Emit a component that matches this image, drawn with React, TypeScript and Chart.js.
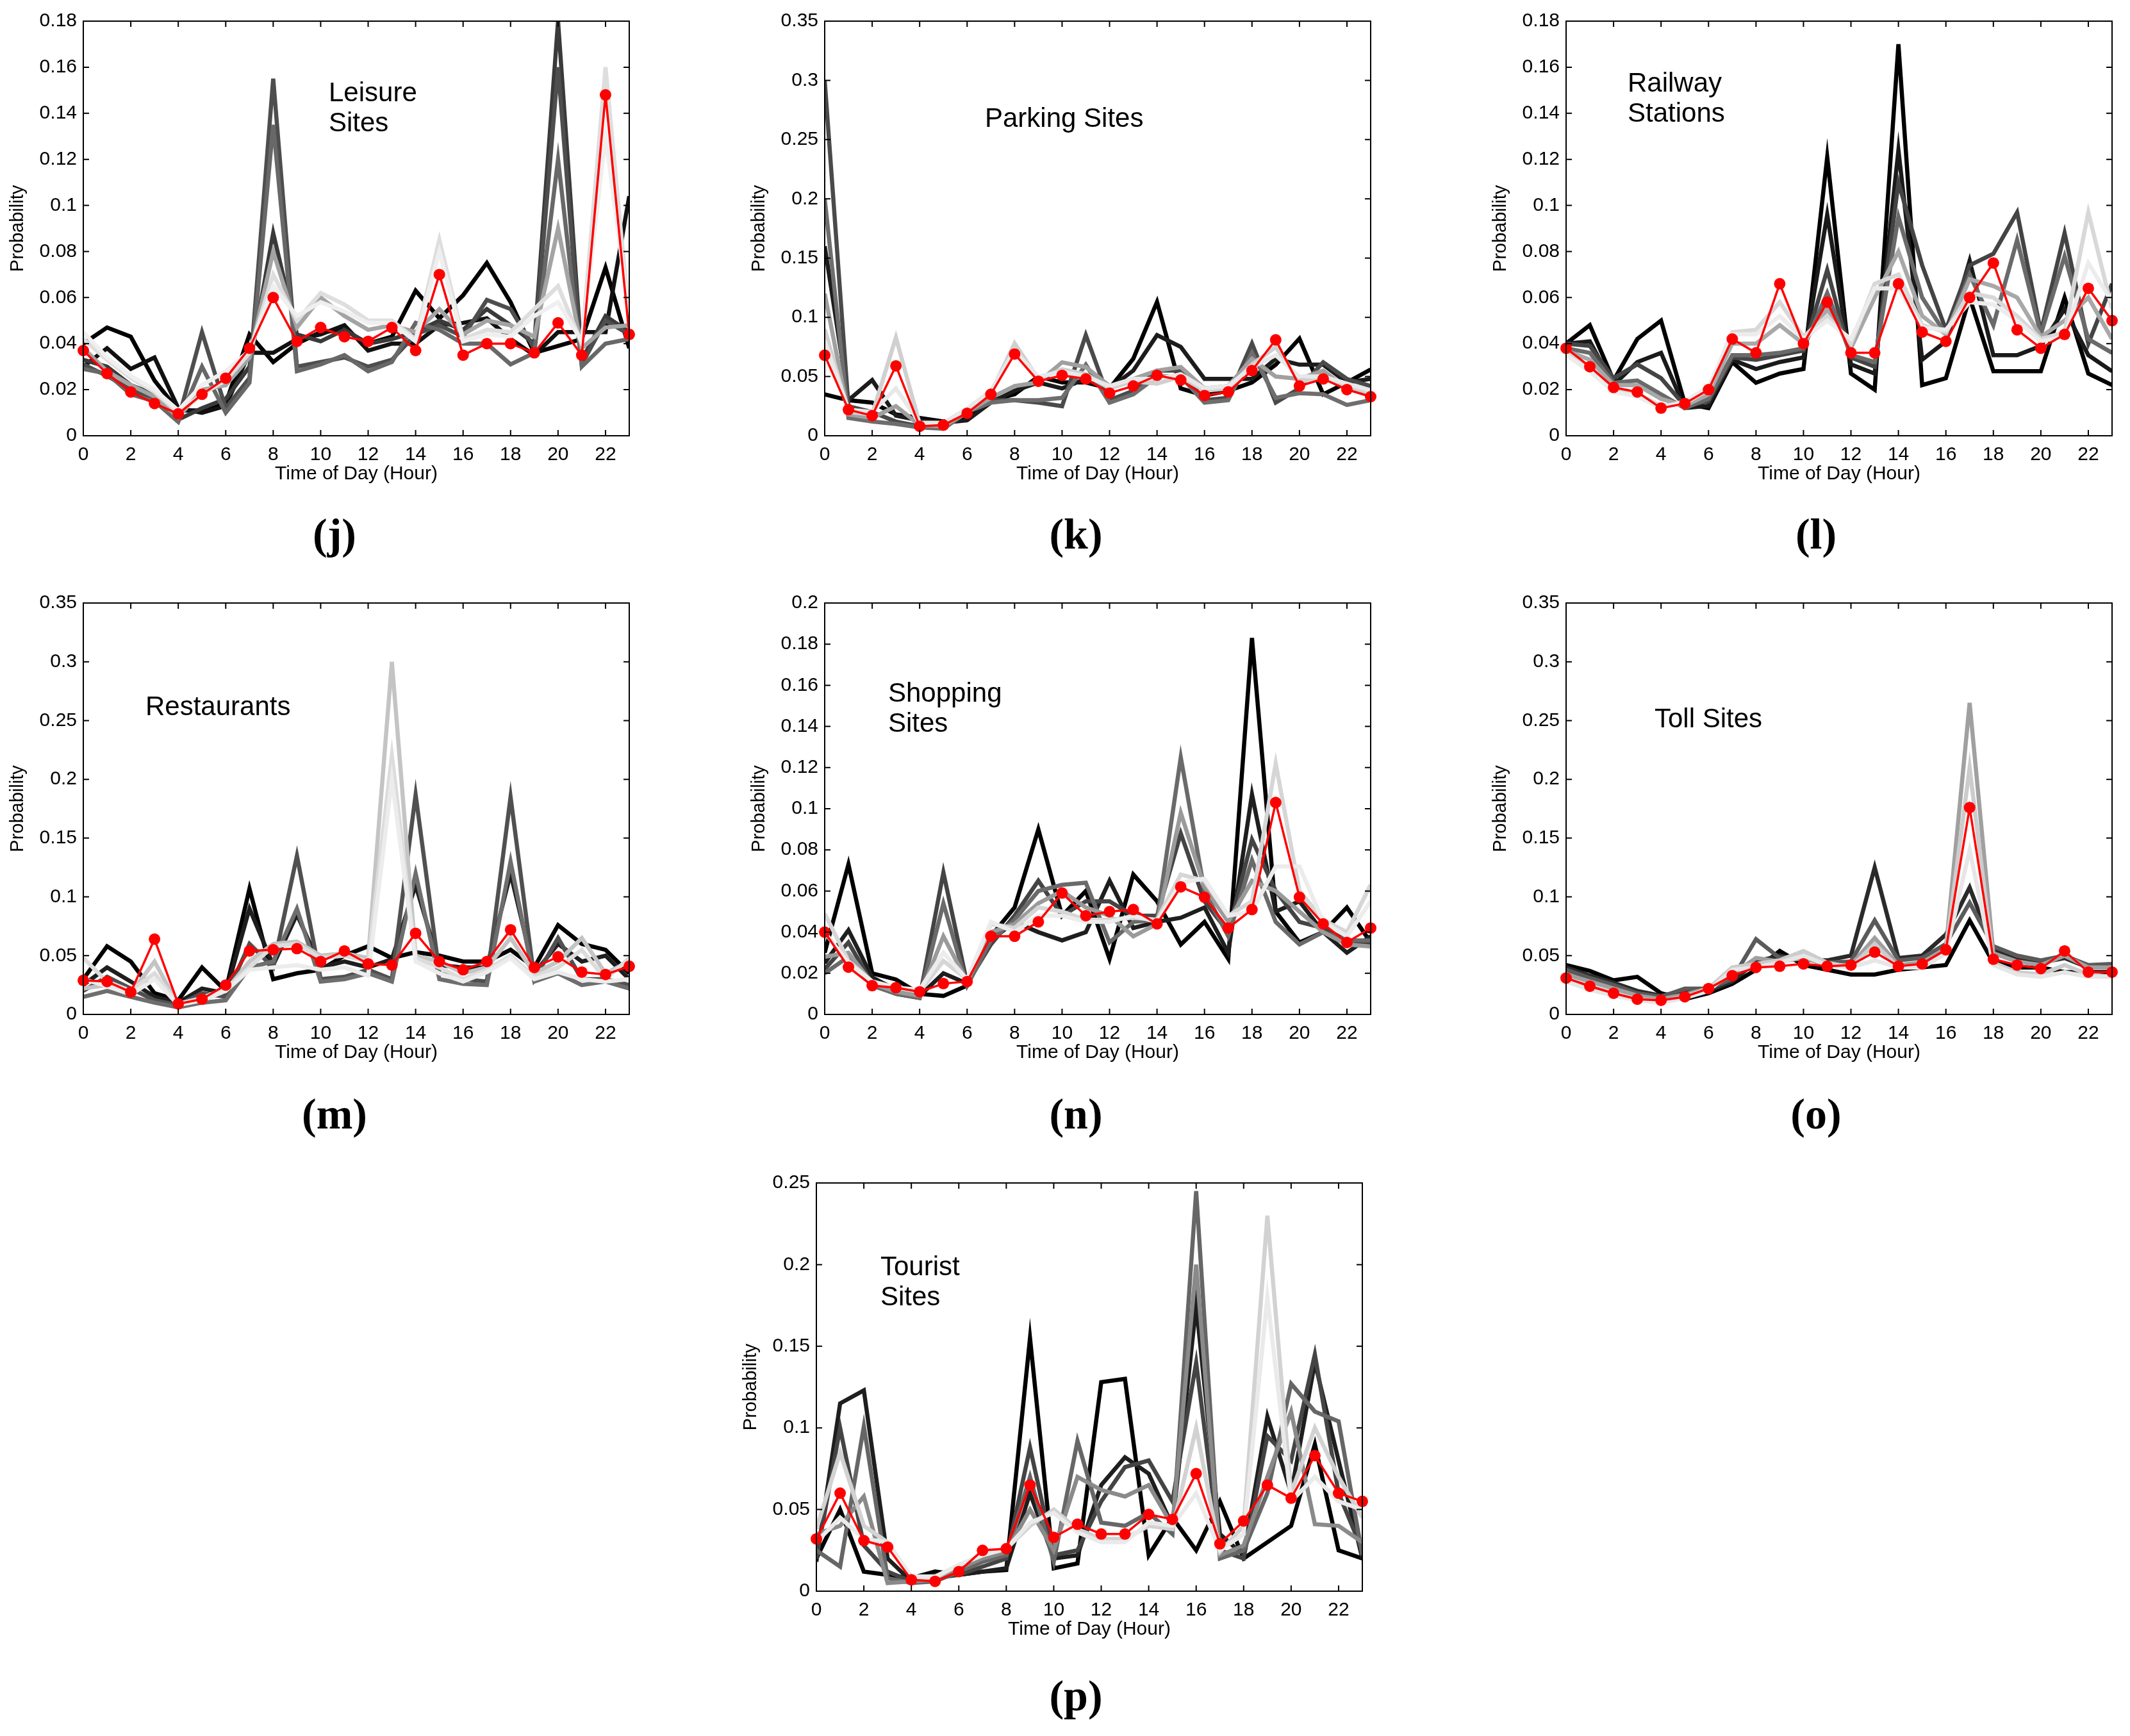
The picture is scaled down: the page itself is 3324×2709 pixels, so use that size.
import { useEffect, useRef } from 'react';
import Chart from 'chart.js/auto';

// hours of the day, shared by every panel
const hours = [0, 1, 2, 3, 4, 5, 6, 7, 8, 9, 10, 11, 12, 13, 14, 15, 16, 17, 18, 19, 20, 21, 22, 23];

// (j) Leisure Sites
const leisureMean = [
  0.037, 0.027, 0.019, 0.014, 0.0095, 0.018, 0.025, 0.038,
  0.060, 0.041, 0.047, 0.043, 0.041, 0.047, 0.037, 0.070,
  0.035, 0.040, 0.040, 0.036, 0.049, 0.035, 0.148, 0.044,
];
const leisureRuns = [
  [0.040, 0.047, 0.043, 0.024, 0.011, 0.011, 0.014, 0.044, 0.032, 0.040, 0.045, 0.046, 0.040, 0.043, 0.063, 0.051, 0.061, 0.075, 0.058, 0.036, 0.039, 0.042, 0.073, 0.038],
  [0.030, 0.038, 0.029, 0.034, 0.012, 0.010, 0.013, 0.036, 0.036, 0.042, 0.044, 0.048, 0.037, 0.040, 0.040, 0.048, 0.049, 0.051, 0.042, 0.035, 0.045, 0.045, 0.045, 0.104],
  [0.033, 0.030, 0.022, 0.018, 0.007, 0.012, 0.016, 0.030, 0.088, 0.044, 0.041, 0.046, 0.040, 0.042, 0.045, 0.050, 0.046, 0.055, 0.048, 0.040, 0.180, 0.033, 0.052, 0.045],
  [0.031, 0.026, 0.020, 0.016, 0.007, 0.045, 0.012, 0.025, 0.155, 0.030, 0.032, 0.034, 0.030, 0.033, 0.044, 0.048, 0.043, 0.059, 0.055, 0.038, 0.160, 0.031, 0.050, 0.044],
  [0.029, 0.027, 0.018, 0.015, 0.006, 0.030, 0.010, 0.023, 0.135, 0.028, 0.031, 0.035, 0.028, 0.032, 0.049, 0.046, 0.040, 0.040, 0.031, 0.036, 0.120, 0.030, 0.040, 0.042],
  [0.038, 0.028, 0.022, 0.017, 0.008, 0.020, 0.022, 0.034, 0.080, 0.047, 0.060, 0.052, 0.046, 0.048, 0.045, 0.055, 0.044, 0.050, 0.048, 0.043, 0.090, 0.038, 0.047, 0.048],
  [0.042, 0.033, 0.025, 0.019, 0.010, 0.018, 0.024, 0.036, 0.070, 0.050, 0.062, 0.057, 0.050, 0.050, 0.042, 0.085, 0.042, 0.046, 0.045, 0.055, 0.065, 0.040, 0.160, 0.050],
  [0.045, 0.034, 0.026, 0.020, 0.011, 0.022, 0.028, 0.037, 0.065, 0.052, 0.058, 0.054, 0.049, 0.049, 0.041, 0.080, 0.041, 0.044, 0.043, 0.052, 0.058, 0.041, 0.130, 0.052],
];

// (k) Parking Sites
const parkingMean = [
  0.068, 0.022, 0.017, 0.059, 0.008, 0.009, 0.019, 0.035,
  0.069, 0.046, 0.051, 0.048, 0.036, 0.042, 0.051, 0.047,
  0.034, 0.037, 0.055, 0.081, 0.042, 0.048, 0.039, 0.033,
];
const parkingRuns = [
  [0.035, 0.030, 0.028, 0.018, 0.015, 0.012, 0.015, 0.030, 0.035, 0.050, 0.045, 0.045, 0.040, 0.065, 0.113, 0.040, 0.034, 0.038, 0.045, 0.060, 0.082, 0.035, 0.045, 0.056],
  [0.160, 0.030, 0.047, 0.017, 0.013, 0.011, 0.013, 0.028, 0.038, 0.045, 0.040, 0.048, 0.040, 0.055, 0.085, 0.075, 0.048, 0.048, 0.048, 0.065, 0.060, 0.060, 0.045, 0.048],
  [0.300, 0.025, 0.020, 0.012, 0.008, 0.007, 0.020, 0.030, 0.030, 0.028, 0.025, 0.085, 0.030, 0.038, 0.055, 0.055, 0.030, 0.032, 0.078, 0.028, 0.040, 0.062, 0.048, 0.042],
  [0.200, 0.015, 0.012, 0.010, 0.007, 0.006, 0.020, 0.028, 0.030, 0.030, 0.032, 0.060, 0.028, 0.035, 0.050, 0.050, 0.028, 0.030, 0.070, 0.032, 0.036, 0.035, 0.026, 0.030],
  [0.120, 0.018, 0.015, 0.025, 0.009, 0.008, 0.020, 0.032, 0.042, 0.045, 0.062, 0.058, 0.042, 0.048, 0.055, 0.058, 0.040, 0.042, 0.065, 0.050, 0.048, 0.055, 0.040, 0.036],
  [0.090, 0.020, 0.018, 0.083, 0.010, 0.010, 0.022, 0.036, 0.078, 0.048, 0.056, 0.052, 0.040, 0.046, 0.044, 0.050, 0.038, 0.040, 0.060, 0.075, 0.046, 0.048, 0.042, 0.036],
  [0.080, 0.022, 0.020, 0.040, 0.011, 0.011, 0.023, 0.038, 0.072, 0.050, 0.054, 0.050, 0.042, 0.048, 0.048, 0.052, 0.040, 0.042, 0.058, 0.068, 0.050, 0.050, 0.044, 0.038],
];

// (l) Railway Stations
const railwayMean = [
  0.038, 0.030, 0.021, 0.019, 0.012, 0.014, 0.020, 0.042,
  0.036, 0.066, 0.040, 0.058, 0.036, 0.036, 0.066, 0.045,
  0.041, 0.060, 0.075, 0.046, 0.038, 0.044, 0.064, 0.050,
];
const railwayRuns = [
  [0.040, 0.048, 0.024, 0.042, 0.050, 0.014, 0.012, 0.032, 0.023, 0.027, 0.029, 0.121, 0.027, 0.020, 0.170, 0.022, 0.025, 0.060, 0.028, 0.028, 0.028, 0.060, 0.027, 0.022],
  [0.040, 0.041, 0.022, 0.032, 0.036, 0.012, 0.013, 0.033, 0.029, 0.032, 0.034, 0.096, 0.031, 0.027, 0.124, 0.033, 0.041, 0.076, 0.035, 0.035, 0.039, 0.055, 0.035, 0.028],
  [0.040, 0.039, 0.025, 0.031, 0.025, 0.013, 0.015, 0.034, 0.033, 0.035, 0.037, 0.072, 0.034, 0.030, 0.110, 0.074, 0.046, 0.074, 0.079, 0.097, 0.045, 0.088, 0.040, 0.066],
  [0.038, 0.036, 0.023, 0.024, 0.018, 0.012, 0.016, 0.035, 0.035, 0.036, 0.038, 0.062, 0.035, 0.032, 0.095, 0.060, 0.044, 0.070, 0.048, 0.085, 0.044, 0.078, 0.042, 0.036],
  [0.037, 0.033, 0.022, 0.022, 0.016, 0.013, 0.018, 0.040, 0.040, 0.048, 0.040, 0.055, 0.038, 0.060, 0.080, 0.052, 0.044, 0.068, 0.065, 0.060, 0.043, 0.050, 0.060, 0.042],
  [0.036, 0.030, 0.020, 0.018, 0.013, 0.014, 0.020, 0.045, 0.046, 0.058, 0.043, 0.052, 0.040, 0.066, 0.070, 0.048, 0.045, 0.062, 0.060, 0.052, 0.042, 0.045, 0.097, 0.055],
  [0.035, 0.028, 0.019, 0.017, 0.012, 0.015, 0.021, 0.044, 0.044, 0.052, 0.042, 0.050, 0.042, 0.064, 0.064, 0.047, 0.046, 0.058, 0.057, 0.050, 0.041, 0.043, 0.075, 0.058],
];

// (m) Restaurants
const restaurantMean = [
  0.029, 0.028, 0.019, 0.064, 0.009, 0.013, 0.025, 0.054,
  0.055, 0.056, 0.045, 0.054, 0.043, 0.042, 0.069, 0.045,
  0.038, 0.045, 0.072, 0.040, 0.049, 0.036, 0.034, 0.041,
];
const restaurantRuns = [
  [0.030, 0.058, 0.045, 0.018, 0.012, 0.040, 0.020, 0.107, 0.030, 0.035, 0.038, 0.050, 0.058, 0.048, 0.053, 0.050, 0.045, 0.045, 0.055, 0.040, 0.076, 0.060, 0.055, 0.035],
  [0.025, 0.040, 0.028, 0.015, 0.010, 0.022, 0.018, 0.090, 0.042, 0.085, 0.040, 0.045, 0.040, 0.047, 0.110, 0.042, 0.040, 0.040, 0.120, 0.035, 0.060, 0.045, 0.050, 0.030],
  [0.020, 0.032, 0.022, 0.012, 0.008, 0.018, 0.015, 0.060, 0.040, 0.135, 0.030, 0.032, 0.038, 0.030, 0.187, 0.035, 0.030, 0.028, 0.185, 0.030, 0.065, 0.030, 0.030, 0.025],
  [0.015, 0.020, 0.015, 0.010, 0.006, 0.010, 0.012, 0.040, 0.045, 0.090, 0.028, 0.030, 0.035, 0.028, 0.120, 0.030, 0.026, 0.025, 0.130, 0.028, 0.035, 0.025, 0.028, 0.022],
  [0.022, 0.025, 0.018, 0.045, 0.008, 0.012, 0.020, 0.045, 0.060, 0.062, 0.050, 0.052, 0.048, 0.300, 0.050, 0.045, 0.035, 0.040, 0.065, 0.035, 0.045, 0.065, 0.035, 0.045],
  [0.048, 0.028, 0.020, 0.035, 0.009, 0.014, 0.022, 0.040, 0.058, 0.060, 0.048, 0.050, 0.045, 0.220, 0.048, 0.040, 0.030, 0.038, 0.050, 0.032, 0.040, 0.055, 0.030, 0.048],
  [0.030, 0.024, 0.017, 0.030, 0.008, 0.012, 0.020, 0.038, 0.040, 0.042, 0.038, 0.040, 0.033, 0.200, 0.045, 0.035, 0.028, 0.036, 0.048, 0.030, 0.036, 0.030, 0.028, 0.030],
];

// (n) Shopping Sites
const shoppingMean = [
  0.040, 0.023, 0.014, 0.013, 0.011, 0.015, 0.016, 0.038,
  0.038, 0.045, 0.059, 0.048, 0.050, 0.051, 0.044, 0.062,
  0.057, 0.042, 0.051, 0.103, 0.057, 0.044, 0.035, 0.042,
];
const shoppingRuns = [
  [0.030, 0.073, 0.020, 0.017, 0.010, 0.009, 0.014, 0.038, 0.052, 0.090, 0.048, 0.060, 0.027, 0.068, 0.055, 0.034, 0.045, 0.027, 0.183, 0.050, 0.035, 0.040, 0.052, 0.035],
  [0.025, 0.041, 0.018, 0.012, 0.009, 0.020, 0.015, 0.036, 0.045, 0.040, 0.036, 0.040, 0.065, 0.042, 0.045, 0.047, 0.052, 0.030, 0.107, 0.050, 0.055, 0.040, 0.030, 0.038],
  [0.022, 0.035, 0.015, 0.010, 0.008, 0.069, 0.015, 0.034, 0.048, 0.065, 0.048, 0.055, 0.055, 0.048, 0.048, 0.088, 0.055, 0.040, 0.085, 0.060, 0.045, 0.042, 0.036, 0.034],
  [0.020, 0.028, 0.014, 0.010, 0.008, 0.054, 0.014, 0.036, 0.046, 0.060, 0.063, 0.064, 0.035, 0.045, 0.046, 0.125, 0.060, 0.038, 0.075, 0.045, 0.034, 0.040, 0.036, 0.036],
  [0.028, 0.030, 0.015, 0.011, 0.009, 0.038, 0.016, 0.040, 0.044, 0.054, 0.060, 0.052, 0.048, 0.038, 0.044, 0.098, 0.062, 0.045, 0.065, 0.060, 0.050, 0.040, 0.034, 0.033],
  [0.049, 0.026, 0.016, 0.013, 0.011, 0.026, 0.017, 0.044, 0.042, 0.052, 0.050, 0.046, 0.046, 0.047, 0.046, 0.068, 0.065, 0.048, 0.055, 0.122, 0.060, 0.046, 0.040, 0.063],
  [0.040, 0.025, 0.016, 0.013, 0.012, 0.030, 0.017, 0.045, 0.040, 0.048, 0.048, 0.045, 0.045, 0.048, 0.045, 0.064, 0.066, 0.048, 0.050, 0.072, 0.072, 0.045, 0.038, 0.055],
];

// (o) Toll Sites
const tollMean = [
  0.031, 0.024, 0.018, 0.013, 0.012, 0.015, 0.022, 0.033,
  0.040, 0.041, 0.043, 0.041, 0.042, 0.053, 0.041, 0.043,
  0.055, 0.176, 0.047, 0.042, 0.039, 0.054, 0.036, 0.036,
];
const tollRuns = [
  [0.042, 0.037, 0.029, 0.032, 0.018, 0.013, 0.018, 0.026, 0.038, 0.054, 0.042, 0.038, 0.034, 0.034, 0.038, 0.040, 0.042, 0.080, 0.044, 0.040, 0.040, 0.036, 0.036, 0.036],
  [0.040, 0.033, 0.027, 0.020, 0.016, 0.020, 0.020, 0.028, 0.045, 0.050, 0.046, 0.046, 0.050, 0.125, 0.048, 0.050, 0.068, 0.108, 0.055, 0.048, 0.044, 0.048, 0.040, 0.040],
  [0.038, 0.031, 0.025, 0.018, 0.015, 0.022, 0.022, 0.030, 0.064, 0.048, 0.050, 0.044, 0.045, 0.080, 0.046, 0.048, 0.060, 0.095, 0.058, 0.050, 0.046, 0.050, 0.042, 0.043],
  [0.034, 0.028, 0.022, 0.016, 0.013, 0.017, 0.022, 0.034, 0.048, 0.045, 0.048, 0.042, 0.042, 0.065, 0.042, 0.044, 0.056, 0.265, 0.052, 0.045, 0.042, 0.050, 0.040, 0.040],
  [0.030, 0.024, 0.018, 0.013, 0.011, 0.015, 0.022, 0.040, 0.043, 0.046, 0.054, 0.044, 0.040, 0.060, 0.040, 0.042, 0.054, 0.210, 0.044, 0.036, 0.034, 0.042, 0.034, 0.032],
  [0.028, 0.021, 0.016, 0.012, 0.010, 0.014, 0.020, 0.038, 0.040, 0.044, 0.050, 0.042, 0.040, 0.046, 0.040, 0.040, 0.052, 0.140, 0.042, 0.034, 0.032, 0.036, 0.032, 0.032],
];

// (p) Tourist Sites
const touristMean = [
  0.032, 0.060, 0.031, 0.027, 0.007, 0.006, 0.012, 0.025,
  0.026, 0.065, 0.033, 0.041, 0.035, 0.035, 0.047, 0.044,
  0.072, 0.029, 0.043, 0.065, 0.057, 0.083, 0.060, 0.055,
];
const touristRuns = [
  [0.020, 0.050, 0.012, 0.010, 0.008, 0.012, 0.010, 0.012, 0.013, 0.155, 0.014, 0.017, 0.128, 0.130, 0.022, 0.045, 0.025, 0.055, 0.020, 0.030, 0.040, 0.090, 0.025, 0.020],
  [0.018, 0.115, 0.123, 0.020, 0.006, 0.010, 0.010, 0.012, 0.014, 0.060, 0.020, 0.022, 0.065, 0.082, 0.072, 0.040, 0.175, 0.035, 0.022, 0.107, 0.060, 0.140, 0.080, 0.020],
  [0.020, 0.100, 0.028, 0.012, 0.006, 0.008, 0.010, 0.015, 0.020, 0.088, 0.022, 0.025, 0.055, 0.076, 0.080, 0.055, 0.140, 0.025, 0.020, 0.095, 0.080, 0.145, 0.060, 0.025],
  [0.025, 0.015, 0.101, 0.008, 0.005, 0.006, 0.012, 0.018, 0.022, 0.070, 0.018, 0.092, 0.042, 0.040, 0.048, 0.035, 0.245, 0.020, 0.025, 0.060, 0.127, 0.110, 0.104, 0.022],
  [0.035, 0.040, 0.058, 0.005, 0.006, 0.007, 0.014, 0.020, 0.024, 0.050, 0.025, 0.070, 0.062, 0.058, 0.065, 0.040, 0.200, 0.022, 0.028, 0.070, 0.110, 0.041, 0.040, 0.030],
  [0.038, 0.085, 0.040, 0.030, 0.008, 0.008, 0.016, 0.022, 0.026, 0.040, 0.050, 0.038, 0.032, 0.032, 0.040, 0.038, 0.100, 0.024, 0.040, 0.230, 0.060, 0.100, 0.070, 0.045],
  [0.030, 0.045, 0.032, 0.030, 0.009, 0.009, 0.016, 0.022, 0.026, 0.042, 0.048, 0.036, 0.030, 0.030, 0.042, 0.040, 0.060, 0.025, 0.035, 0.180, 0.055, 0.070, 0.055, 0.050],
];

const SANS = '"Liberation Sans", Arial, Helvetica, sans-serif';
const SERIF = '"Liberation Serif", "DejaVu Serif", serif';
const AXIS_W = 130;
const AXIS_H = 82;
const PAD_T = 25;
const PAD_R = 25;

type PanelSpec = {
  letter: string;
  title: string[];
  mean: number[];
  runs: number[][];
  shades: string[];
  yMax: number;
  yStep: number;
  left: number;
  top: number;
  w: number;
  h: number;
  titleX: number;
  titleY: number;
  letterX: number;
  letterY: number;
};

const panels: PanelSpec[] = [
  { letter: '(j)', title: ['Leisure', 'Sites'], mean: leisureMean, runs: leisureRuns,
    shades: ['#000000', '#111111', '#3a3a3a', '#4e4e4e', '#686868', '#a4a4a4', '#dedede', '#efefef'],
    yMax: 0.18, yStep: 0.02, left: 130, top: 30, w: 852, h: 650, titleX: 513, titleY: 144, letterX: 522, letterY: 833 },
  { letter: '(k)', title: ['Parking Sites'], mean: parkingMean, runs: parkingRuns,
    shades: ['#000000', '#1c1c1c', '#4a4a4a', '#6e6e6e', '#a0a0a0', '#d0d0d0', '#e8e8e8'],
    yMax: 0.35, yStep: 0.05, left: 1287, top: 30, w: 852, h: 650, titleX: 1537, titleY: 184, letterX: 1679, letterY: 833 },
  { letter: '(l)', title: ['Railway', 'Stations'], mean: railwayMean, runs: railwayRuns,
    shades: ['#000000', '#1a1a1a', '#444444', '#6a6a6a', '#a8a8a8', '#d8d8d8', '#ececec'],
    yMax: 0.18, yStep: 0.02, left: 2444, top: 30, w: 852, h: 650, titleX: 2540, titleY: 129, letterX: 2834, letterY: 833 },
  { letter: '(m)', title: ['Restaurants'], mean: restaurantMean, runs: restaurantRuns,
    shades: ['#000000', '#1e1e1e', '#505050', '#6e6e6e', '#c4c4c4', '#dcdcdc', '#ececec'],
    yMax: 0.35, yStep: 0.05, left: 130, top: 938, w: 852, h: 645, titleX: 227, titleY: 1102, letterX: 522, letterY: 1738 },
  { letter: '(n)', title: ['Shopping', 'Sites'], mean: shoppingMean, runs: shoppingRuns,
    shades: ['#000000', '#1e1e1e', '#444444', '#6a6a6a', '#9a9a9a', '#d6d6d6', '#ececec'],
    yMax: 0.2, yStep: 0.02, left: 1287, top: 938, w: 852, h: 645, titleX: 1386, titleY: 1081, letterX: 1679, letterY: 1738 },
  { letter: '(o)', title: ['Toll Sites'], mean: tollMean, runs: tollRuns,
    shades: ['#000000', '#2a2a2a', '#5a5a5a', '#a0a0a0', '#cccccc', '#e6e6e6'],
    yMax: 0.35, yStep: 0.05, left: 2444, top: 938, w: 852, h: 645, titleX: 2582, titleY: 1121, letterX: 2834, letterY: 1738 },
  { letter: '(p)', title: ['Tourist', 'Sites'], mean: touristMean, runs: touristRuns,
    shades: ['#000000', '#1e1e1e', '#444444', '#666666', '#8a8a8a', '#d2d2d2', '#eaeaea'],
    yMax: 0.25, yStep: 0.05, left: 1274, top: 1843, w: 852, h: 640, titleX: 1374, titleY: 1976, letterX: 1679, letterY: 2646 },
];

// MATLAB-like box with inward ticks on all four sides
const boxPlugin = {
  id: 'matlabBox',
  afterDatasetsDraw(chart: any) {
    const { ctx, chartArea: a, scales } = chart;
    const t = 9;
    ctx.save();
    ctx.strokeStyle = '#000';
    ctx.lineWidth = 2;
    ctx.strokeRect(a.left, a.top, a.right - a.left, a.bottom - a.top);
    ctx.beginPath();
    scales.x.ticks.forEach((tk: any) => {
      const px = scales.x.getPixelForValue(tk.value);
      ctx.moveTo(px, a.bottom);
      ctx.lineTo(px, a.bottom - t);
      ctx.moveTo(px, a.top);
      ctx.lineTo(px, a.top + t);
    });
    scales.y.ticks.forEach((tk: any) => {
      const py = scales.y.getPixelForValue(tk.value);
      ctx.moveTo(a.left, py);
      ctx.lineTo(a.left + t, py);
      ctx.moveTo(a.right, py);
      ctx.lineTo(a.right - t, py);
    });
    ctx.stroke();
    ctx.restore();
  },
};

function Panel({ spec }: { spec: PanelSpec }) {
  const canvasRef = useRef<HTMLCanvasElement>(null);
  const chartRef = useRef<Chart | null>(null);
  const cw = spec.w + AXIS_W + PAD_R;
  const ch = spec.h + PAD_T + AXIS_H;

  useEffect(() => {
    if (!canvasRef.current) return;
    if (chartRef.current) chartRef.current.destroy();

    const toPoints = (vals: number[]) => hours.map((h, i) => ({ x: h, y: vals[i] }));
    // lower "order" is drawn on top: red mean above all, lighter runs above darker ones
    const grayDatasets = spec.runs.map((run, i) => ({
      data: toPoints(run),
      borderColor: spec.shades[i],
      borderWidth: 6.5,
      borderJoinStyle: 'miter',
      pointRadius: 0,
      tension: 0,
      fill: false,
      order: spec.runs.length - i,
    }));

    chartRef.current = new Chart(canvasRef.current, {
      type: 'line',
      data: {
        datasets: [
          ...grayDatasets,
          {
            data: toPoints(spec.mean),
            borderColor: '#ff0000',
            backgroundColor: '#ff0000',
            borderWidth: 3.5,
            pointRadius: 9,
            pointBorderWidth: 0,
            pointBackgroundColor: '#ff0000',
            tension: 0,
            fill: false,
            clip: false,
            order: 0,
          },
        ],
      },
      options: {
        animation: false,
        responsive: false,
        devicePixelRatio: 1,
        layout: { padding: { top: PAD_T, right: PAD_R, left: 0, bottom: 0 } },
        plugins: { legend: { display: false }, tooltip: { enabled: false } },
        scales: {
          x: {
            type: 'linear',
            min: 0,
            max: 23,
            ticks: {
              stepSize: 2,
              includeBounds: false,
              autoSkip: false,
              maxRotation: 0,
              padding: 12,
              color: '#000',
              font: { family: SANS, size: 30 },
            },
            grid: { display: false, drawTicks: false },
            border: { display: false },
            title: {
              display: true,
              text: 'Time of Day (Hour)',
              color: '#000',
              font: { family: SANS, size: 30 },
              padding: { top: 0, bottom: 4 },
            },
            afterFit: (s: any) => { s.height = AXIS_H; },
          },
          y: {
            min: 0,
            max: spec.yMax,
            ticks: {
              stepSize: spec.yStep,
              autoSkip: false,
              padding: 10,
              color: '#000',
              font: { family: SANS, size: 30 },
              callback: (v: any) => parseFloat(Number(v).toFixed(4)).toString(),
            },
            grid: { display: false, drawTicks: false },
            border: { display: false },
            title: {
              display: true,
              text: 'Probability',
              color: '#000',
              font: { family: SANS, size: 29 },
              padding: { top: 11, bottom: 0 },
            },
            afterFit: (s: any) => { s.width = AXIS_W; },
          },
        },
      },
      plugins: [boxPlugin],
    } as any);

    return () => {
      if (chartRef.current) {
        chartRef.current.destroy();
        chartRef.current = null;
      }
    };
  }, [spec]);

  return (
    <>
      <div style={{ position: 'absolute', left: spec.left - AXIS_W, top: spec.top - PAD_T, width: cw, height: ch }}>
        <canvas ref={canvasRef} width={cw} height={ch} style={{ width: cw, height: ch }} />
      </div>
      {spec.title.map((line, i) => (
        <div
          key={line}
          style={{
            position: 'absolute',
            left: spec.titleX,
            top: spec.titleY + i * 47,
            transform: 'translateY(-50%)',
            fontFamily: SANS,
            fontSize: 42,
            lineHeight: 1,
            color: '#000',
            whiteSpace: 'nowrap',
          }}
        >
          {line}
        </div>
      ))}
      <div
        style={{
          position: 'absolute',
          left: spec.letterX,
          top: spec.letterY,
          transform: 'translate(-50%, -50%)',
          fontFamily: SERIF,
          fontWeight: 'bold',
          fontSize: 68,
          lineHeight: 1,
          color: '#000',
        }}
      >
        {spec.letter}
      </div>
    </>
  );
}

export default function App() {
  return (
    <div style={{ position: 'absolute', left: 0, top: 0, width: 3324, height: 2709, background: '#fff', overflow: 'hidden' }}>
      {panels.map((p) => (
        <Panel key={p.letter} spec={p} />
      ))}
    </div>
  );
}
